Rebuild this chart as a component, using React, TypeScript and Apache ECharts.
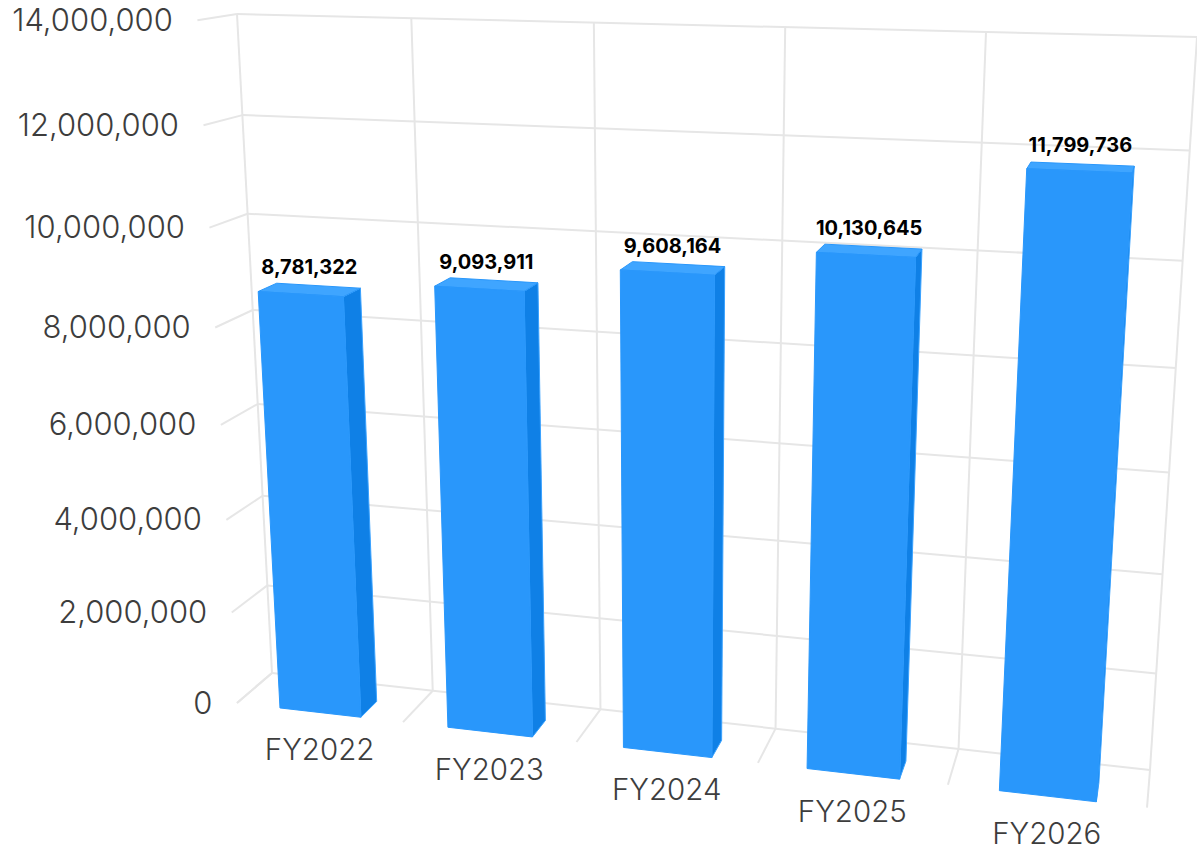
import React, { useEffect, useRef } from "react";
import * as echarts from "echarts";

const categories = ["FY2022", "FY2023", "FY2024", "FY2025", "FY2026"];
const revenue = [8781322, 9093911, 9608164, 10130645, 11799736];
const yTicks = [0, 2000000, 4000000, 6000000, 8000000, 10000000, 12000000, 14000000];
const boundaries = [0, 1, 2, 3, 4, 5];

const FONT = "Inter";
const GRID = "#e6e6e6";
const TEXT = "#3d3d3d";

// back wall corners: (0,0), (1,0), (1,1), (0,1), plus front floor corners
const q = [[272, 673], [1150, 770], [1197, 37], [237, 14]];
const frontLeft = [237, 703];
const frontRightX = 1147;

const sx = q[0][0] - q[1][0] + q[2][0] - q[3][0];
const sy = q[0][1] - q[1][1] + q[2][1] - q[3][1];
const dx1 = q[1][0] - q[2][0];
const dx2 = q[3][0] - q[2][0];
const dy1 = q[1][1] - q[2][1];
const dy2 = q[3][1] - q[2][1];
const den = dx1 * dy2 - dx2 * dy1;
const g = (sx * dy2 - dx2 * sy) / den;
const h = (dx1 * sy - sx * dy1) / den;
const a = q[1][0] - q[0][0] + g * q[1][0];
const b = q[3][0] - q[0][0] + h * q[3][0];
const d = q[1][1] - q[0][1] + g * q[1][1];
const e = q[3][1] - q[0][1] + h * q[3][1];
const w = ((q[1][0] - frontRightX) * (1 + g) + frontLeft[0] - q[0][0]) / (frontRightX - frontLeft[0]);
const mzx = frontLeft[0] * (1 + w) - q[0][0];
const mzy = frontLeft[1] * (1 + w) - q[0][1];

// u: along the categories, v: along the value axis, z: 0 back wall, 1 front
function project(u: number, v: number, z: number): [number, number] {
  const W = 1 + g * u + h * v + w * z;
  return [
    (a * u + b * v + q[0][0] + mzx * z) / W,
    (d * u + e * v + q[0][1] + mzy * z) / W,
  ];
}

function toUnit(params: any, px: number[]) {
  const c = params.coordSys;
  return [(px[0] - c.x) / c.width, (c.y + c.height - px[1]) / c.height];
}

const line = (p1: number[], p2: number[]) => ({
  type: "line",
  silent: true,
  shape: { x1: p1[0], y1: p1[1], x2: p2[0], y2: p2[1] },
  style: { stroke: GRID, lineWidth: 2, fill: "none" },
});

function renderHorizontal(params: any, api: any) {
  const val = api.value(0);
  const c = params.coordSys;
  const [, v] = toUnit(params, [c.x, api.coord([0, val])[1]]);
  const wallFront = project(0, v, 1);
  const wallBack = project(0, v, 0);
  const right = project(1, v, 0);
  return {
    type: "group",
    children: [
      line(wallFront, wallBack),
      line(wallBack, right),
      {
        type: "text",
        silent: true,
        style: {
          x: wallFront[0] - 24.5,
          y: wallFront[1] - 1,
          text: Number(val).toLocaleString("en-US"),
          fontFamily: FONT,
          fontSize: 31,
          fontWeight: 300,
          fill: TEXT,
          textAlign: "right",
          textVerticalAlign: "middle",
        },
      },
    ],
  };
}

function renderVertical(params: any, api: any) {
  const i = api.value(0);
  const band = api.size([1, 0])[0];
  const px = api.coord([0, 0])[0] - band / 2 + i * band;
  const [u] = toUnit(params, [px, 0]);
  const top = project(u, 1, 0);
  const bottom = project(u, 0, 0);
  const front = project(u, 0, 1);
  return {
    type: "group",
    children: [line(top, bottom), line(bottom, front)],
  };
}

function renderBar(params: any, api: any) {
  const idx = api.value(0);
  const val = api.value(1);
  const band = api.size([1, 0])[0];
  const pt = api.coord([idx, val]);
  const [uc, v] = toUnit(params, pt);
  const unitBand = band / params.coordSys.width;
  const u0 = uc - unitBand * 0.237;
  const u1 = uc + unitBand * 0.25;
  const zf = 1;
  const zb = 0.5;
  const poly = (pts: number[][], fill: string, stroke: string) => ({
    type: "polygon",
    silent: true,
    shape: { points: pts },
    style: { fill, stroke, lineWidth: 1, lineJoin: "round" },
  });
  const side = [project(u1, 0, zf), project(u1, 0, zb), project(u1, v, zb), project(u1, v, zf)];
  const top = [project(u0, v, zf), project(u0, v, zb), project(u1, v, zb), project(u1, v, zf)];
  const front = [project(u0, 0, zf), project(u1, 0, zf), project(u1, v, zf), project(u0, v, zf)];
  const labelAt = project(uc, v, 0.75);
  const catAt = project(uc, 0, 1);
  return {
    type: "group",
    children: [
      poly(side, "#0f80e6", "#3aa2ff"),
      poly(top, "#3fa5ff", "#2997fb"),
      poly(front, "#2997fb", "#2997fb"),
      {
        type: "text",
        silent: true,
        style: {
          x: labelAt[0] + 1,
          y: labelAt[1] - 22.5,
          text: Number(val).toLocaleString("en-US"),
          fontFamily: FONT,
          fontSize: 20,
          fontWeight: 700,
          fill: "#000000",
          textAlign: "center",
          textVerticalAlign: "middle",
        },
      },
      {
        type: "text",
        silent: true,
        style: {
          x: catAt[0] + 0.5,
          y: catAt[1] + 37,
          text: categories[idx],
          fontFamily: FONT,
          fontSize: 29.5,
          fontWeight: 300,
          fill: TEXT,
          textAlign: "center",
          textVerticalAlign: "middle",
        },
      },
    ],
  };
}

export default function App() {
  const ref = useRef<HTMLDivElement>(null);
  useEffect(() => {
    document.body.style.margin = "0";
    const chart = echarts.init(ref.current!, undefined, { renderer: "svg" });
    chart.setOption({
      animation: false,
      backgroundColor: "#ffffff",
      grid: { left: 100, top: 100, width: 1000, height: 600 },
      xAxis: { type: "category", data: categories, show: false },
      yAxis: { type: "value", min: 0, max: 14000000, interval: 2000000, show: false },
      series: [
        {
          type: "custom",
          z: 1,
          clip: false,
          coordinateSystem: "cartesian2d",
          renderItem: renderVertical,
          data: boundaries.map((i) => [i]),
          encode: { x: 0 },
        },
        {
          type: "custom",
          z: 1,
          clip: false,
          coordinateSystem: "cartesian2d",
          renderItem: renderHorizontal,
          data: yTicks.map((t) => [t]),
          encode: { y: 0 },
        },
        {
          type: "custom",
          z: 2,
          clip: false,
          coordinateSystem: "cartesian2d",
          renderItem: renderBar,
          data: revenue.map((v, i) => [i, v]),
          encode: { x: 0, y: 1 },
        },
      ],
    });
    return () => chart.dispose();
  }, []);
  return <div ref={ref} style={{ position: "absolute", left: 0, top: 0, width: 1197, height: 852 }} />;
}
